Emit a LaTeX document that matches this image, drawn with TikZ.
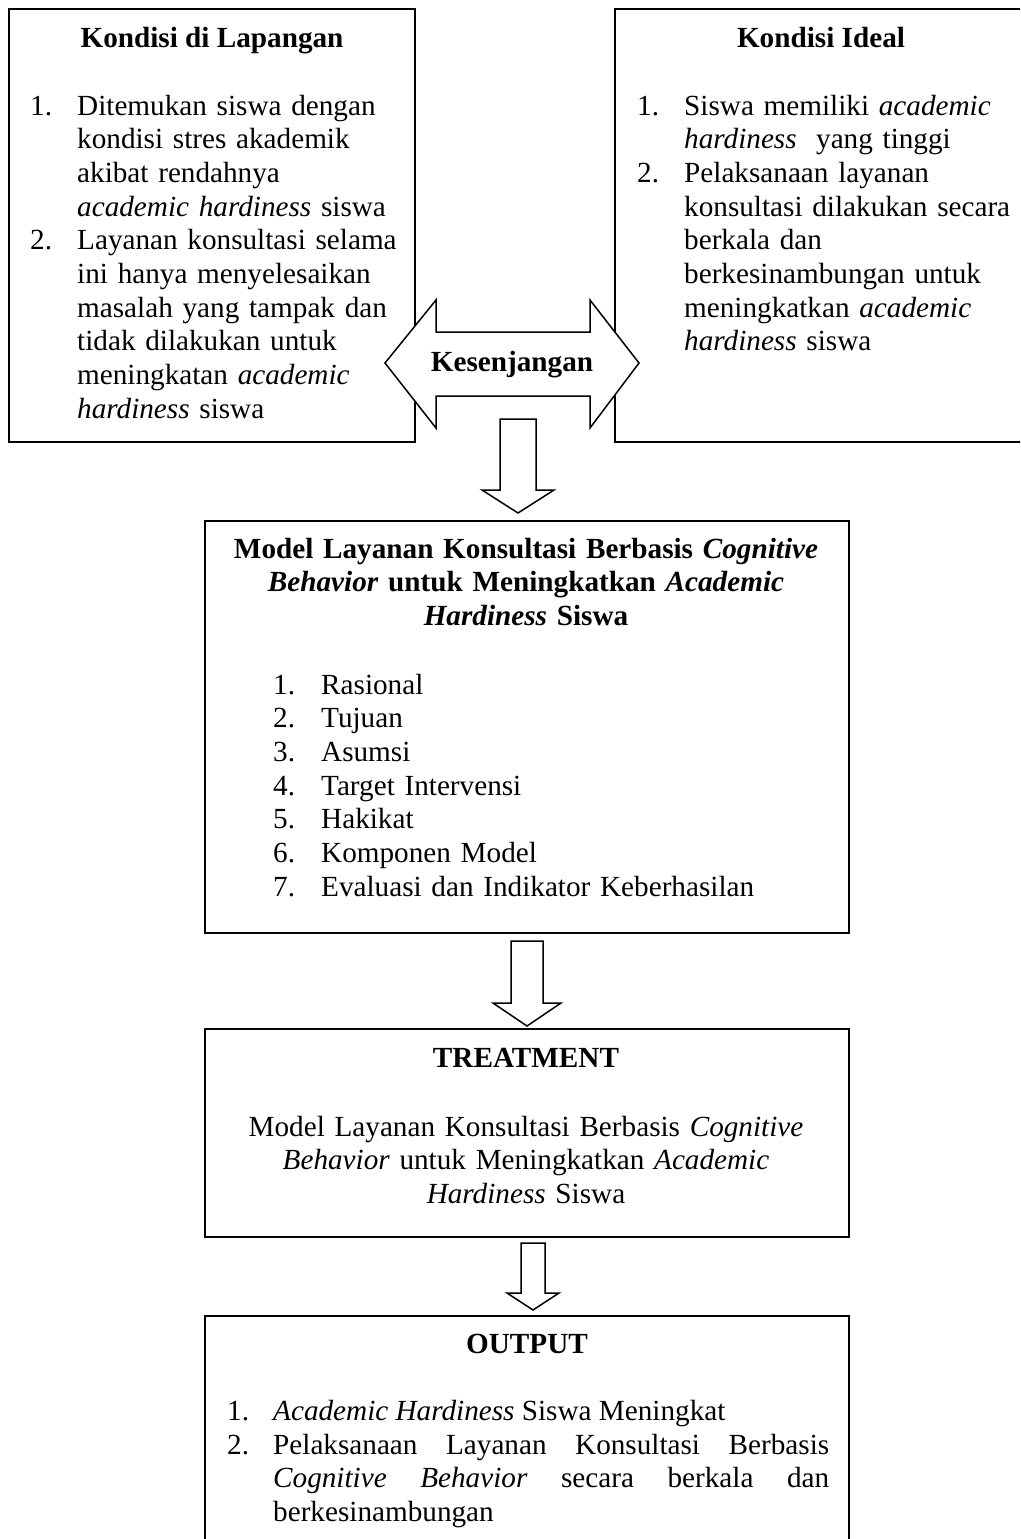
\documentclass[tikz,border=0pt]{standalone}
\usepackage{fontspec}
\setmainfont{Liberation Serif}
\begin{document}
\begin{tikzpicture}[x=1pt,y=-1pt]
\tikzset{
  frame/.style={draw, line width=1.8pt, rectangle, inner sep=0pt, outer sep=0pt, anchor=north west},
  blockarrow/.style={draw, fill=white, line width=1.5pt, line join=miter},
  txt/.style={font=\fontsize{29.2pt}{33.7pt}\selectfont, inner sep=0pt, anchor=base west, align=left},
  ttl/.style={font=\fontsize{29.2pt}{33.7pt}\selectfont\bfseries, inner sep=0pt, anchor=base, align=center},
  ctxt/.style={font=\fontsize{29.2pt}{33.7pt}\selectfont, inner sep=0pt, anchor=base, align=center}
}
\useasboundingbox (0,0) rectangle (1020,1539);
\clip (0,0) rectangle (1020,1539);

% ---------- top boxes ----------
\node[frame, minimum width=406pt, minimum height=433pt] (lap) at (9,9) {};
\node[frame, minimum width=413pt, minimum height=433pt] (ideal) at (615,9) {};

\node[ttl] (lapT) at (212,47) {Kondisi di Lapangan};
\node[txt] (lapN1) at (30,115) {1.};
\node[txt, text width=340pt] (lapI1) at (77,115) {Ditemukan siswa dengan\\ kondisi stres akademik\\ akibat rendahnya\\ \textit{academic hardiness} siswa};
\node[txt] (lapN2) at (30,249.8) {2.};
\node[txt, text width=340pt] (lapI2) at (77,249.8) {Layanan konsultasi selama\\ ini hanya menyelesaikan\\ masalah yang tampak dan\\ tidak dilakukan untuk\\ meningkatan \textit{academic}\\ \textit{hardiness} siswa};

\node[ttl] (idealT) at (821,47) {Kondisi Ideal};
\node[txt] (idealN1) at (637,115) {1.};
\node[txt, text width=340pt] (idealI1) at (684,115) {Siswa memiliki \textit{academic}\\ \textit{hardiness}~~yang tinggi};
\node[txt] (idealN2) at (637,182.4) {2.};
\node[txt, text width=340pt] (idealI2) at (684,182.4) {Pelaksanaan layanan\\ konsultasi dilakukan secara\\ berkala dan\\ berkesinambungan untuk\\ meningkatkan \textit{academic}\\ \textit{hardiness} siswa};

% ---------- gap double arrow ----------
\draw[blockarrow] (385,363) -- (436,300) -- (436,332) -- (590,332) -- (590,300) -- (639,363)
  -- (590,428) -- (590,396) -- (436,396) -- (436,428) -- cycle;
\node[ttl] (gap) at (512,371) {Kesenjangan};

% ---------- arrow 1 ----------
\draw[blockarrow] (500,419) -- (536,419) -- (536,490) -- (554,490) -- (518,513) -- (482,490) -- (500,490) -- cycle;

% ---------- model box ----------
\node[frame, minimum width=644pt, minimum height=412pt] (model) at (205,521) {};
\node[ttl, text width=630pt] (modelT) at (526,558) {Model Layanan Konsultasi Berbasis \textit{Cognitive}\\ \textit{Behavior} untuk Meningkatkan \textit{Academic}\\ \textit{Hardiness} Siswa};
\node[txt, text width=40pt] (modelN) at (273,694) {1.\\2.\\3.\\4.\\5.\\6.\\7.};
\node[txt, text width=500pt] (modelI) at (321,694) {Rasional\\ Tujuan\\ Asumsi\\ Target Intervensi\\ Hakikat\\ Komponen Model\\ Evaluasi dan Indikator Keberhasilan};

% ---------- arrow 2 ----------
\draw[blockarrow] (511,941) -- (543,941) -- (543,1003) -- (561,1003) -- (527,1026) -- (493,1003) -- (511,1003) -- cycle;

% ---------- treatment box ----------
\node[frame, minimum width=644pt, minimum height=208pt] (treat) at (205,1029) {};
\node[ttl] (treatT) at (526,1067) {TREATMENT};
\node[ctxt, text width=630pt] (treatB) at (526,1136) {Model Layanan Konsultasi Berbasis \textit{Cognitive}\\ \textit{Behavior} untuk Meningkatkan \textit{Academic}\\ \textit{Hardiness} Siswa};

% ---------- arrow 3 ----------
\draw[blockarrow] (521,1243) -- (545,1243) -- (545,1293) -- (559,1293) -- (533,1310) -- (507,1293) -- (521,1293) -- cycle;

% ---------- output box ----------
\node[frame, minimum width=644pt, minimum height=260pt] (out) at (205,1316) {};
\node[ttl] (outT) at (527,1353) {OUTPUT};
\node[txt] (outN1) at (227,1420) {1.};
\node[txt] (outI1) at (273,1420) {\textit{Academic Hardiness} Siswa Meningkat};
\node[txt] (outN2) at (227,1454) {2.};
\node[txt, text width=556pt] (outI2) at (273,1454) {\leavevmode\hbox to 556pt{Pelaksanaan\hfill Layanan\hfill Konsultasi\hfill Berbasis}\\ \leavevmode\hbox to 556pt{\textit{Cognitive}\hfill \textit{Behavior}\hfill secara\hfill berkala\hfill dan}\\ berkesinambungan};
\end{tikzpicture}
\end{document}
